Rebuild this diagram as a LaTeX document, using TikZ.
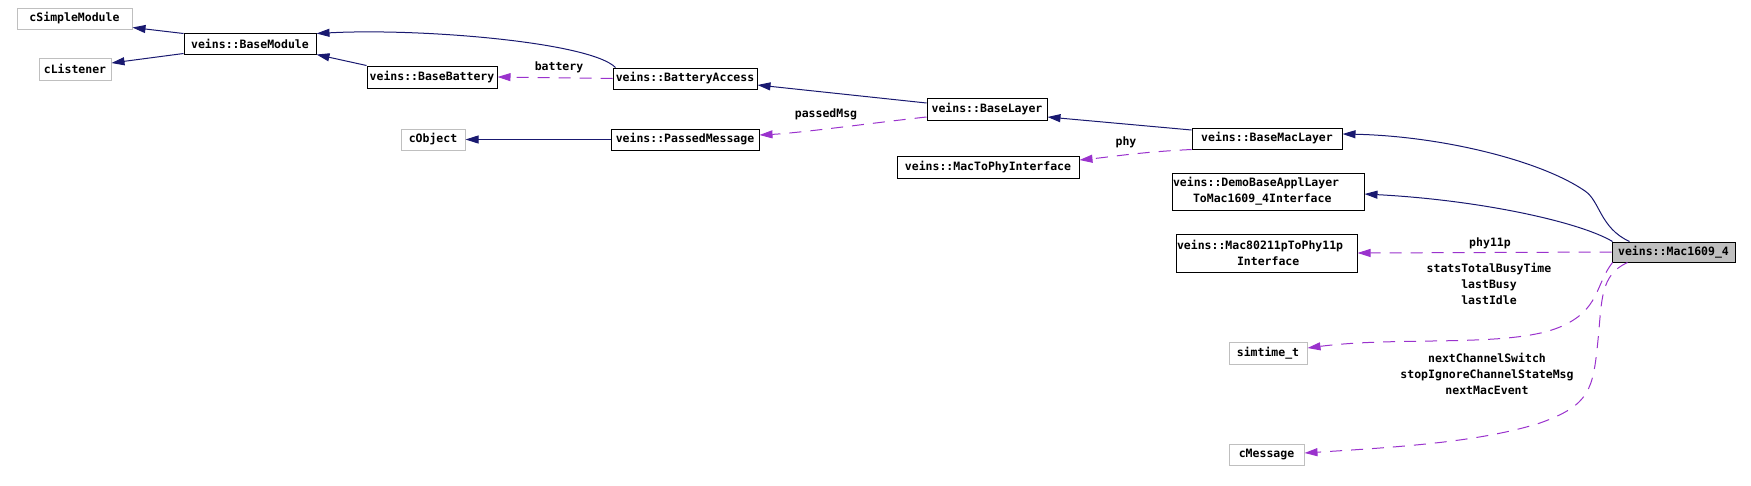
\documentclass[tikz,border=0pt]{standalone}
\usepackage{fontspec}
\setmainfont{DejaVu Sans Mono}
\usetikzlibrary{arrows.meta,calc}
\definecolor{navy}{HTML}{191970}
\definecolor{orchid}{HTML}{9A32CD}
\definecolor{extgray}{HTML}{BFBFBF}
\newcommand{\dxf}{\fontsize{11.5}{16}\selectfont\bfseries}
\tikzset{
  box/.style={draw=black, line width=1pt, fill=white, inner sep=0pt, font=\dxf},
  extbox/.style={box, draw=extgray},
  curbox/.style={box, fill=extgray},
  inh/.style={navy, line width=1pt, -{Triangle[length=13pt,width=8pt]}},
  mem/.style={orchid, line width=1pt, dash pattern=on 12pt off 9pt, -{Triangle[length=13pt,width=8pt]}},
  lbl/.style={font=\dxf, inner sep=0pt, align=center},
}
\begin{document}
\begin{tikzpicture}[x=1pt,y=-1pt]
\useasboundingbox (0,0) rectangle (1751,485);
% nodes
\node[extbox, minimum width=115pt, minimum height=21pt] (cs) at (74.5,18.5) {cSimpleModule};
\node[extbox, minimum width=72pt, minimum height=22pt] (cl) at (75,69) {cListener};
\node[box, minimum width=132pt, minimum height=21pt] (bm) at (250,43.5) {veins::BaseModule};
\node[box, minimum width=130pt, minimum height=22pt] (bb) at (432,77) {veins::BaseBattery};
\node[box, minimum width=144pt, minimum height=21pt] (ba) at (685,78.5) {veins::BatteryAccess};
\node[box, minimum width=120pt, minimum height=22pt] (bl) at (987,109) {veins::BaseLayer};
\node[extbox, minimum width=64pt, minimum height=21pt] (co) at (433,139.5) {cObject};
\node[box, minimum width=148pt, minimum height=21pt] (pm) at (685,139.5) {veins::PassedMessage};
\node[box, minimum width=150pt, minimum height=21pt] (bml) at (1267,138.5) {veins::BaseMacLayer};
\node[box, minimum width=182pt, minimum height=22pt] (mp) at (988,167) {veins::MacToPhyInterface};
\node[box, minimum width=192pt, minimum height=37pt, text width=190pt, align=left] (db) at (1268,191.5) {veins::DemoBaseApplLayer\\\hspace*{20pt}ToMac1609\_4Interface};
\node[box, minimum width=181pt, minimum height=38pt, text width=179pt, align=left] (mx) at (1266.5,253) {veins::Mac80211pToPhy11p\\\hspace*{60pt}Interface};
\node[curbox, minimum width=123pt, minimum height=20pt] (m) at (1673.5,252) {veins::Mac1609\_4};
\node[extbox, minimum width=78pt, minimum height=22pt] (st) at (1268,353) {simtime\_t};
\node[extbox, minimum width=75pt, minimum height=21pt] (cm) at (1266.5,454.5) {cMessage};
% inheritance edges
\draw[inh] ($(bm.north west)+(0,1)$) -- ($(cs.south east)+(0,-2)$);
\draw[inh] ($(bm.south west)+(0,-1)$) -- ($(cl.east)+(0,-6)$);
\draw[inh] (bb.north west) -- (bm.south east);
\draw[inh] ($(ba.north west)+(3,0)$) .. controls (590,42) and (420,28) .. ($(bm.north east)+(0,1)$);
\draw[inh] ($(bl.west)+(0,-6)$) -- ($(ba.east)+(0,6.5)$);
\draw[inh] ($(bml.west)+(0,-8.5)$) -- ($(bl.east)+(0,8)$);
\draw[inh] (pm.west) -- (co.east);
\draw[inh] ($(m.north west)+(18,0)$) .. controls (1600,228) and (1600,201) .. (1585,191) .. controls (1540,160) and (1440,136) .. ($(bml.east)+(0,-4.5)$);
\draw[inh] ($(m.north west)+(1,0)$) .. controls (1580,222) and (1480,200) .. ($(db.east)+(0,2.5)$);
% member edges
\draw[mem] (ba.west) -- (bb.east);
\draw[mem] ($(bl.west)+(0,8)$) .. controls (880,122) and (800,133) .. ($(pm.east)+(0,-4.5)$);
\draw[mem] (bml.south west) .. controls (1140,152) and (1110,157) .. ($(mp.east)+(0,-7)$);
\draw[mem] (m.west) -- (mx.east);
\draw[mem] ($(m.south west)+(1,0)$) .. controls (1595,285) and (1600,310) .. (1560,327) .. controls (1510,348) and (1400,336) .. ($(st.east)+(0,-5)$);
\draw[mem] ($(m.south west)+(16,0)$) .. controls (1600,275) and (1602,300) .. (1598,340) .. controls (1593,390) and (1590,405) .. (1540,423) .. controls (1480,442) and (1400,447) .. ($(cm.east)+(0,-1.5)$);
% labels
\node[lbl] (lbattery) at (559,67) {battery};
\node[lbl] (lpassed) at (826,114) {passedMsg};
\node[lbl] (lphy) at (1126,142) {phy};
\node[lbl] (lphy11p) at (1490,243) {phy11p};
\node[lbl] (lstats) at (1489,283.5) {statsTotalBusyTime\\lastBusy\\lastIdle};
\node[lbl] (lmsg) at (1487,374) {nextChannelSwitch\\stopIgnoreChannelStateMsg\\nextMacEvent};
\end{tikzpicture}
\end{document}
